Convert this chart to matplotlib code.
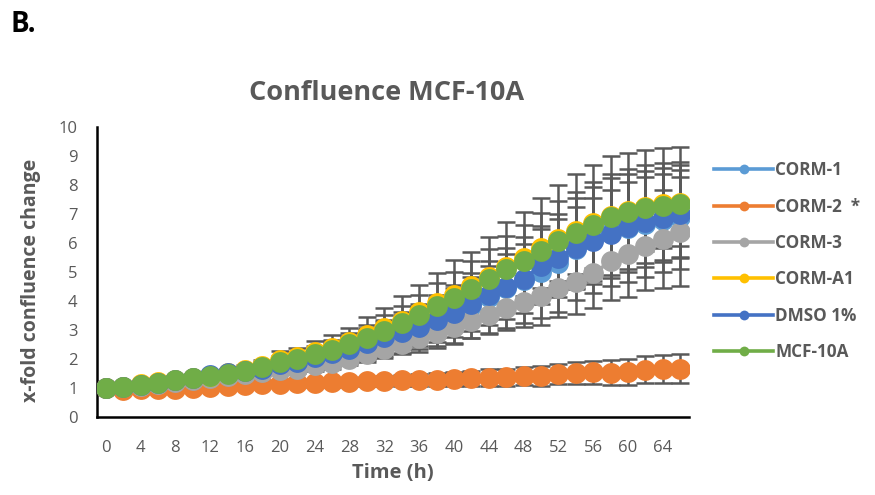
import matplotlib
matplotlib.use("Agg")
import matplotlib.pyplot as plt
import numpy as np

plt.rcParams['font.family'] = ['Open Sans', 'DejaVu Sans']

# Sampling times (h)
time_h = list(range(0, 68, 2))

# Mean fold change in confluence per condition
corm1 = [1.00, 1.02, 1.08, 1.15, 1.23, 1.31, 1.38, 1.45, 1.53, 1.62, 1.76, 1.86, 2.01, 2.14, 2.31, 2.50, 2.70,
         2.88, 3.05, 3.28, 3.52, 3.82, 4.12, 4.42, 4.70, 4.98, 5.30, 5.78, 6.08, 6.36, 6.50, 6.65, 6.78, 6.88]
corm2 = [1.00, 0.92, 0.94, 0.96, 0.97, 1.00, 1.02, 1.05, 1.09, 1.11, 1.14, 1.15, 1.16, 1.18, 1.20, 1.22, 1.23,
         1.26, 1.27, 1.28, 1.31, 1.33, 1.35, 1.36, 1.40, 1.40, 1.46, 1.50, 1.53, 1.52, 1.54, 1.62, 1.65, 1.66]
corm3 = [1.00, 1.02, 1.07, 1.13, 1.20, 1.27, 1.33, 1.40, 1.48, 1.55, 1.60, 1.66, 1.77, 1.85, 2.00, 2.17, 2.33,
         2.52, 2.70, 2.88, 3.08, 3.30, 3.52, 3.75, 3.96, 4.16, 4.42, 4.65, 4.94, 5.35, 5.60, 5.88, 6.13, 6.38]
corma1 = [1.00, 1.04, 1.11, 1.18, 1.26, 1.34, 1.41, 1.49, 1.61, 1.75, 1.95, 2.06, 2.23, 2.38, 2.57, 2.80, 3.06,
          3.31, 3.61, 3.91, 4.19, 4.49, 4.83, 5.17, 5.47, 5.80, 6.13, 6.40, 6.68, 6.93, 7.09, 7.23, 7.33, 7.38]
dmso = [1.00, 1.03, 1.09, 1.16, 1.25, 1.34, 1.43, 1.50, 1.57, 1.65, 1.80, 1.90, 2.05, 2.18, 2.35, 2.55, 2.75,
        2.93, 3.10, 3.33, 3.58, 3.88, 4.19, 4.48, 4.76, 5.18, 5.48, 5.82, 6.05, 6.30, 6.53, 6.70, 6.85, 7.00]
mcf10a = [1.00, 1.03, 1.10, 1.17, 1.25, 1.33, 1.39, 1.46, 1.57, 1.72, 1.90, 2.00, 2.17, 2.31, 2.49, 2.72, 2.97,
          3.22, 3.52, 3.82, 4.10, 4.40, 4.74, 5.08, 5.38, 5.72, 6.05, 6.33, 6.62, 6.88, 7.04, 7.18, 7.27, 7.32]

# Standard deviations
err_corm1 = [0, 0.03, 0.05, 0.06, 0.08, 0.10, 0.12, 0.14, 0.16, 0.20, 0.25, 0.28, 0.34, 0.40, 0.46, 0.55, 0.62,
             0.72, 0.82, 0.92, 1.02, 1.12, 1.25, 1.38, 1.48, 1.58, 1.68, 1.75, 1.82, 1.85, 1.85, 1.82, 1.80, 1.80]
err_corm2 = [0, 0.02, 0.03, 0.04, 0.05, 0.06, 0.07, 0.08, 0.09, 0.10, 0.11, 0.12, 0.13, 0.14, 0.15, 0.16, 0.17,
             0.19, 0.20, 0.22, 0.24, 0.26, 0.28, 0.30, 0.32, 0.33, 0.35, 0.37, 0.40, 0.42, 0.44, 0.46, 0.48, 0.50]
err_corm3 = [0, 0.02, 0.03, 0.04, 0.05, 0.06, 0.07, 0.08, 0.10, 0.12, 0.14, 0.15, 0.18, 0.20, 0.23, 0.27, 0.30,
             0.33, 0.35, 0.45, 0.55, 0.58, 0.67, 0.76, 0.86, 1.00, 1.00, 1.10, 1.20, 1.34, 1.46, 1.50, 1.69, 1.89]
err_corma1 = [0, 0.03, 0.05, 0.07, 0.08, 0.10, 0.12, 0.14, 0.17, 0.20, 0.30, 0.30, 0.38, 0.45, 0.50, 0.62, 0.70,
              0.85, 0.92, 1.05, 1.20, 1.20, 1.35, 1.55, 1.60, 1.75, 1.85, 1.95, 2.00, 2.05, 2.00, 1.95, 1.92, 1.90]
err_dmso = [0, 0.02, 0.04, 0.05, 0.06, 0.08, 0.10, 0.11, 0.13, 0.15, 0.20, 0.22, 0.27, 0.32, 0.37, 0.43, 0.50,
            0.58, 0.65, 0.75, 0.85, 0.92, 1.02, 1.12, 1.20, 1.28, 1.35, 1.42, 1.48, 1.52, 1.55, 1.55, 1.52, 1.50]
err_mcf10a = [0, 0.02, 0.04, 0.05, 0.06, 0.08, 0.09, 0.10, 0.12, 0.15, 0.20, 0.22, 0.28, 0.32, 0.38, 0.45, 0.52,
              0.60, 0.68, 0.78, 0.88, 0.95, 1.05, 1.15, 1.22, 1.30, 1.38, 1.42, 1.48, 1.50, 1.50, 1.48, 1.46, 1.45]

labels = ["CORM-1", "CORM-2  *", "CORM-3", "CORM-A1", "DMSO 1%", "MCF-10A"]
colors = ["#5B9BD5", "#ED7D31", "#A5A5A5", "#FFC000", "#4472C4", "#70AD47"]
means = [corm1, corm2, corm3, corma1, dmso, mcf10a]
errors = [err_corm1, err_corm2, err_corm3, err_corma1, err_dmso, err_mcf10a]

x_ticks = list(range(0, 65, 4))
y_ticks = list(range(0, 11))

text_grey = "#595959"

fig = plt.figure(figsize=(8.75, 4.95), dpi=100)
ax = fig.add_axes([0.1109, 0.1582, 0.6765, 0.5862])

for m, e in zip(means, errors):
    ax.errorbar(time_h, m, yerr=e, fmt='none', ecolor=text_grey, elinewidth=1.8,
                capsize=6.5, capthick=1.8, zorder=1)

for i, (m, c, lab) in enumerate(zip(means, colors, labels)):
    ax.plot(time_h, m, color=c, lw=2.6, marker='o', markersize=15,
            markeredgewidth=0, label=lab, zorder=3 + i)

ax.set_xlim(-1, 67)
ax.set_ylim(0, 10)
ax.set_xticks(x_ticks)
ax.set_yticks(y_ticks)
ax.tick_params(axis='both', length=0, labelsize=12, labelcolor=text_grey)
ax.tick_params(axis='x', pad=17)
ax.tick_params(axis='y', pad=14)

for s in ['top', 'right']:
    ax.spines[s].set_visible(False)
for s in ['left', 'bottom']:
    ax.spines[s].set_linewidth(1.8)
    ax.spines[s].set_color('black')

ax.set_xlabel("Time (h)", fontsize=14.5, fontweight='bold', color=text_grey, labelpad=5)
ax.set_ylabel("x-fold confluence change", fontsize=14, fontweight='bold', color=text_grey)
ax.yaxis.set_label_coords(-0.095, 0.47)

fig.text(0.442, 0.812, "Confluence MCF-10A", ha='center', va='center',
         fontsize=19.5, fontweight='bold', color=text_grey)
fig.text(0.012, 0.95, "B.", ha='left', va='center', fontsize=20, fontweight='bold', color='black')

leg = ax.legend(loc='upper left', bbox_to_anchor=(0.798, 0.705), bbox_transform=fig.transFigure,
                frameon=False, fontsize=12.3, handlelength=3.5, labelspacing=1.07,
                markerscale=0.47, handletextpad=0.12)
for t in leg.get_texts():
    t.set_color(text_grey)
    t.set_fontweight('bold')

fig.savefig("out.png", dpi=100)
